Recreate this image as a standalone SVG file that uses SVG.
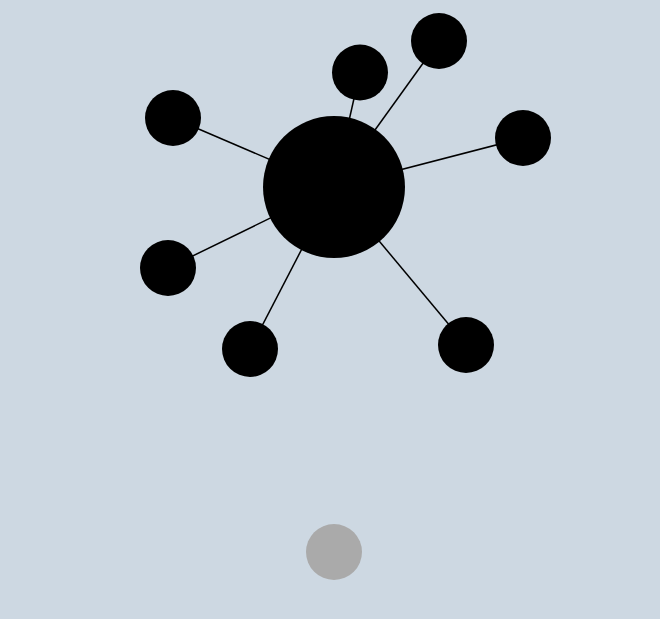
<svg xmlns="http://www.w3.org/2000/svg" width="660" height="619" viewBox="0 0 660 619">
<style>
.n{fill:#000}
.e{stroke:#000;stroke-width:1.5}
</style>
<rect width="660" height="619" fill="#cdd8e2"/>
<g id="edges">
<line class="e" x1="334" y1="187" x2="360" y2="72"/>
<line class="e" x1="334" y1="187" x2="439" y2="41"/>
<line class="e" x1="334" y1="187" x2="523" y2="138"/>
<line class="e" x1="334" y1="187" x2="173" y2="118"/>
<line class="e" x1="334" y1="187" x2="168" y2="268"/>
<line class="e" x1="334" y1="187" x2="250" y2="349"/>
<line class="e" x1="334" y1="187" x2="466" y2="345"/>
</g>
<g id="hub"><circle class="n" cx="334" cy="187" r="71"/></g>
<g id="n1"><circle class="n" cx="360" cy="72.5" r="28"/></g>
<g id="n2"><circle class="n" cx="439" cy="41" r="28"/></g>
<g id="n3"><circle class="n" cx="523" cy="138" r="28"/></g>
<g id="n4"><circle class="n" cx="173" cy="118" r="28"/></g>
<g id="n5"><circle class="n" cx="168" cy="268" r="28"/></g>
<g id="n6"><circle class="n" cx="250" cy="349" r="28"/></g>
<g id="n7"><circle class="n" cx="466" cy="345" r="28"/></g>
<g id="gray"><circle cx="334" cy="552" r="28" fill="#aaaaaa"/></g>
</svg>
